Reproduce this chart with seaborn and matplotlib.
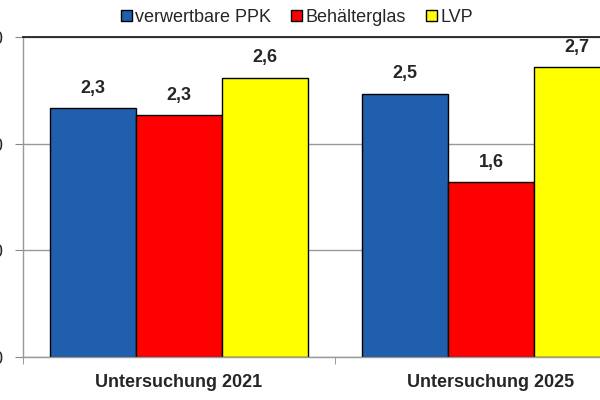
import seaborn as sns
import pandas as pd
from matplotlib import pyplot as plt

categories = ['Untersuchung 2021', 'Untersuchung 2025']
series = ['verwertbare PPK', 'Behälterglas', 'LVP']
ppk = [2.33, 2.47]
glas = [2.27, 1.64]
lvp = [2.62, 2.72]
colors = ['#1F5FAD', '#FF0000', '#FFFF00']
yticks = [0, 1, 2, 3]

rows = []
for name, vals in zip(series, [ppk, glas, lvp]):
    for cat, v in zip(categories, vals):
        rows.append({'Untersuchung': cat, 'Fraktion': name, 'Wert': v})
df = pd.DataFrame(rows)

sns.set_style('white')
plt.rcParams['font.family'] = ['Liberation Sans', 'DejaVu Sans']

fig = plt.figure(figsize=(6, 4), dpi=100)
ax = fig.add_axes([0.0383, 0.1075, 1.04, 0.80])

sns.barplot(data=df, x='Untersuchung', y='Wert', hue='Fraktion', palette=colors,
            saturation=1, edgecolor='black', linewidth=1.0, width=0.827, gap=0,
            ax=ax, legend=True)

for cont, vals in zip(ax.containers, [ppk, glas, lvp]):
    ax.bar_label(cont, labels=[f'{v:.1f}'.replace('.', ',') for v in vals],
                 padding=8, fontsize=13, fontweight='bold')

ax.set_xlim(-0.5, 1.5)
ax.set_ylim(0, 3)
ax.set_yticks(yticks)
ax.set_yticklabels([f'{t:.1f}'.replace('.', ',') for t in yticks], fontsize=13)
ax.tick_params(axis='y', length=6, color='#888888', pad=8, left=True)
ax.set_xticks([0, 1])
ax.set_xticklabels(categories, fontsize=13, fontweight='bold')
ax.set_xticks([-0.5, 0.5, 1.5], minor=True)
ax.tick_params(axis='x', which='major', length=0, pad=12)
ax.tick_params(axis='x', which='minor', length=5, color='#888888', bottom=True)
ax.set_xlabel('')
ax.set_ylabel('')

ax.yaxis.grid(True, color='#999999', linewidth=1)
ax.set_axisbelow(True)
for s in ['left', 'bottom']:
    ax.spines[s].set_color('#999999')
    ax.spines[s].set_linewidth(1)
ax.spines['top'].set_color('#222222')
ax.spines['top'].set_linewidth(1.3)
ax.spines['right'].set_visible(False)

handles, labels = ax.get_legend_handles_labels()
ax.legend(handles, labels, loc='center', bbox_to_anchor=(0.495, 0.957),
          bbox_transform=fig.transFigure, ncol=3, frameon=False, fontsize=13,
          handlelength=0.6, handleheight=0.6, handletextpad=0.2, columnspacing=1.1)

plt.savefig('out.png', dpi=100)
